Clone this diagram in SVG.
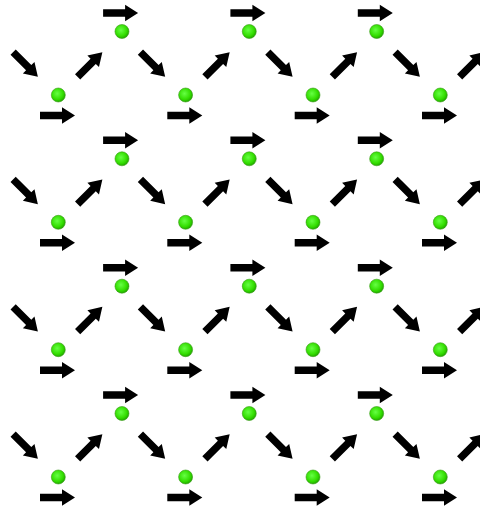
<svg xmlns="http://www.w3.org/2000/svg" xmlns:xlink="http://www.w3.org/1999/xlink" width="480" height="509" viewBox="0 0 480 509">
<style>
.arrow{fill:#000}
.dot{fill:url(#g);stroke:#3a9a1a;stroke-width:0.6}
</style>
<defs>
<radialGradient id="g" cx="0.42" cy="0.4" r="0.6">
<stop offset="0" stop-color="#66ff44"/>
<stop offset="0.7" stop-color="#33dd00"/>
<stop offset="1" stop-color="#22aa00"/>
</radialGradient>
<path id="arr" class="arrow" d="M-17.5,-3.7 H4.5 V-8.2 L17.5,0 L4.5,8.2 V3.7 H-17.5 Z"/>
<g id="cell">
<circle class="dot" cx="0" cy="0" r="7"/>
<circle class="dot" cx="63.67" cy="-63.5" r="7"/>
<use xlink:href="#arr" transform="translate(-0.8,20.5)"/>
<use xlink:href="#arr" transform="translate(62.3,-82)"/>
<use xlink:href="#arr" transform="translate(-32.8,-30.5) rotate(45)"/>
<use xlink:href="#arr" transform="translate(31.7,-30.5) rotate(-45)"/>
</g>
</defs>
<g id="row0">
<use xlink:href="#cell" transform="translate(58.3,95)"/>
<use xlink:href="#cell" transform="translate(185.6,95)"/>
<use xlink:href="#cell" transform="translate(313,95)"/>
<use xlink:href="#cell" transform="translate(440.3,95)"/>
</g>
<g id="row1">
<use xlink:href="#cell" transform="translate(58.3,222.3)"/>
<use xlink:href="#cell" transform="translate(185.6,222.3)"/>
<use xlink:href="#cell" transform="translate(313,222.3)"/>
<use xlink:href="#cell" transform="translate(440.3,222.3)"/>
</g>
<g id="row2">
<use xlink:href="#cell" transform="translate(58.3,349.7)"/>
<use xlink:href="#cell" transform="translate(185.6,349.7)"/>
<use xlink:href="#cell" transform="translate(313,349.7)"/>
<use xlink:href="#cell" transform="translate(440.3,349.7)"/>
</g>
<g id="row3">
<use xlink:href="#cell" transform="translate(58.3,477)"/>
<use xlink:href="#cell" transform="translate(185.6,477)"/>
<use xlink:href="#cell" transform="translate(313,477)"/>
<use xlink:href="#cell" transform="translate(440.3,477)"/>
</g>
</svg>
